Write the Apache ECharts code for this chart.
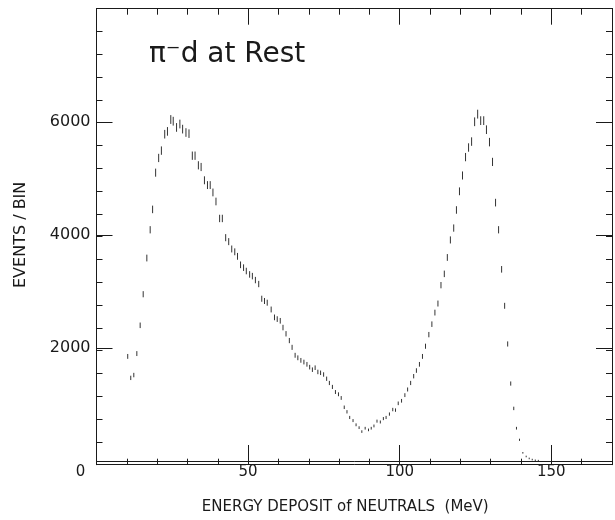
<!DOCTYPE html>
<html>
<head>
<meta charset="utf-8">
<script src="https://cdn.jsdelivr.net/npm/echarts@6/dist/echarts.min.js"></script>
<style>
  html, body { margin: 0; padding: 0; background: #fff; }
  #chart { width: 615px; height: 520px; }
</style>
</head>
<body>
<div id="chart"></div>
<script>
// Energy deposit of neutrals (MeV), bin centres
const energy = [
  10.3, 11.3, 12.3, 13.3, 14.4, 15.4, 16.6, 17.7, 18.5, 19.5,
  20.5, 21.4, 22.5, 23.4, 24.5, 25.3, 26.4, 27.5, 28.4, 29.5,
  30.5, 31.6, 32.5, 33.6, 34.5, 35.6, 36.6, 37.5, 38.4, 39.4,
  40.6, 41.5, 42.6, 43.6, 44.6, 45.6, 46.5, 47.5, 48.5, 49.4,
  50.5, 51.4, 52.4, 53.5, 54.5, 55.4, 56.3, 57.6, 58.7, 59.6,
  60.6, 61.5, 62.5, 63.6, 64.5, 65.5, 66.4, 67.4, 68.4, 69.4,
  70.3, 71.2, 72.1, 73.0, 73.9, 74.9, 75.9, 76.8, 77.8, 78.8,
  79.8, 80.7, 81.7, 82.6, 83.5, 84.6, 85.6, 86.6, 87.5, 88.6,
  89.7, 90.6, 91.5, 92.5, 93.6, 94.6, 95.5, 96.6, 97.7, 98.6,
  99.5, 100.6, 101.7, 102.6, 103.6, 104.6, 105.5, 106.5, 107.5, 108.5,
  109.6, 110.6, 111.6, 112.6, 113.6, 114.7, 115.7, 116.7, 117.8, 118.7,
  119.7, 120.7, 121.7, 122.7, 123.7, 124.7, 125.7, 126.7, 127.7, 128.6,
  129.6, 130.6, 131.6, 132.6, 133.6, 134.6, 135.6, 136.6, 137.6, 138.5,
  139.5, 140.6, 141.7, 142.7, 143.7, 144.7, 145.7
];
// Events per bin
const events = [
  1850, 1470, 1520, 1900, 2400, 2950, 3590, 4090, 4450, 5100,
  5360, 5490, 5780, 5830, 6040, 6010, 5900, 5960, 5870, 5810,
  5790, 5400, 5400, 5230, 5200, 4965, 4880, 4880, 4750, 4590,
  4290, 4290, 3950, 3880, 3750, 3700, 3620, 3470, 3420, 3360,
  3300, 3270, 3200, 3130, 2870, 2830, 2800, 2680, 2540, 2510,
  2480, 2360, 2250, 2130, 2010, 1870, 1825, 1780, 1750, 1710,
  1660, 1615, 1650, 1575, 1560, 1530, 1455, 1380, 1310, 1220,
  1180, 1115, 950, 870, 770, 715, 640, 590, 520, 580,
  550, 580, 620, 705, 690, 750, 770, 830, 910, 900,
  1020, 1065, 1165, 1265, 1380, 1500, 1600, 1710, 1850, 2030,
  2235, 2420, 2625, 2785, 3110, 3310, 3600, 3910, 4120, 4440,
  4770, 5050, 5375, 5545, 5650, 6000, 6135, 6020, 6020, 5860,
  5640, 5290, 4570, 4090, 3390, 2745, 2070, 1370, 930, 580,
  375, 145, 80, 45, 25, 12, 6
];
const xMajorTicks = [0, 50, 100, 150];
const yMajorTicks = [2000, 4000, 6000];
const titleText = 'π⁻d at Rest';
const xName = 'ENERGY DEPOSIT of NEUTRALS  (MeV)';
const yName = 'EVENTS / BIN';

const FONT = 'DejaVu Sans';
const INK = '#1a1a1a';
const gridBox = { left: 96.5, right: 3, top: 8.7, bottom: 55.3 };

const points = energy.map((e, i) => [e, events[i]]);

function axisCommon(extra) {
  return Object.assign({
    type: 'value',
    axisLine: { show: true, onZero: false, lineStyle: { color: INK, width: 1 } },
    splitLine: { show: false },
    axisLabel: { show: false }
  }, extra);
}

const chart = echarts.init(document.getElementById('chart'), null, { renderer: 'canvas' });
chart.setOption({
  backgroundColor: '#fff',
  animation: false,
  title: {
    text: titleText,
    left: 144,
    top: 36,
    textStyle: { fontFamily: FONT, fontSize: 28, fontWeight: 'normal', color: INK }
  },
  grid: [
    Object.assign({}, gridBox),
    Object.assign({}, gridBox)
  ],
  xAxis: [
    axisCommon({
      gridIndex: 0, position: 'bottom', min: 0, max: 170, interval: 50,
      axisTick: { show: true, inside: true, length: 16, lineStyle: { color: INK, width: 1 } },
      name: xName, nameLocation: 'middle', nameGap: 39,
      nameTextStyle: { fontFamily: FONT, fontSize: 15, color: INK, padding: [0, 18, 0, 0] },
      axisLabel: {
        show: true, margin: 4, fontFamily: FONT, fontSize: 15, color: INK,
        formatter: v => xMajorTicks.indexOf(v) < 0 ? '' : (v === 0 ? '{z|0}' : String(v)),
        rich: { z: { fontFamily: FONT, fontSize: 15, color: INK, padding: [0, 32, 0, 0] } }
      }
    }),
    axisCommon({
      gridIndex: 0, position: 'top', min: 0, max: 170, interval: 50,
      axisTick: { show: true, inside: true, length: 16, lineStyle: { color: INK, width: 1 } }
    }),
    axisCommon({
      gridIndex: 1, position: 'bottom', min: 0, max: 170, interval: 10,
      axisTick: { show: true, inside: true, length: 6, lineStyle: { color: INK, width: 1 } }
    }),
    axisCommon({
      gridIndex: 1, position: 'top', min: 0, max: 170, interval: 10,
      axisTick: { show: true, inside: true, length: 6, lineStyle: { color: INK, width: 1 } }
    })
  ],
  yAxis: [
    axisCommon({
      gridIndex: 0, position: 'left', min: 0, max: 8000, interval: 2000,
      axisTick: { show: true, inside: true, length: 16, lineStyle: { color: INK, width: 1 } },
      name: yName, nameLocation: 'middle', nameGap: 68, nameRotate: 90,
      nameTextStyle: { fontFamily: FONT, fontSize: 16, color: INK },
      axisLabel: {
        show: true, margin: 6, fontFamily: FONT, fontSize: 16, color: INK,
        formatter: v => yMajorTicks.indexOf(v) < 0 ? '' : String(v)
      }
    }),
    axisCommon({
      gridIndex: 0, position: 'right', min: 0, max: 8000, interval: 2000,
      axisTick: { show: true, inside: true, length: 16, lineStyle: { color: INK, width: 1 } }
    }),
    axisCommon({
      gridIndex: 1, position: 'left', min: 0, max: 8000, interval: 400,
      axisTick: { show: true, inside: true, length: 6, lineStyle: { color: INK, width: 1 } }
    }),
    axisCommon({
      gridIndex: 1, position: 'right', min: 0, max: 8000, interval: 400,
      axisTick: { show: true, inside: true, length: 6, lineStyle: { color: INK, width: 1 } }
    })
  ],
  series: [{
    type: 'custom',
    xAxisIndex: 0,
    yAxisIndex: 0,
    data: points,
    clip: true,
    renderItem: function (params, api) {
      const x = api.value(0);
      const y = api.value(1);
      const err = Math.sqrt(y);
      const top = api.coord([x, y + err]);
      const bot = api.coord([x, y - err]);
      let y1 = top[1], y2 = bot[1];
      if (y2 - y1 < 1.6) { const m = (y1 + y2) / 2; y1 = m - 0.8; y2 = m + 0.8; }
      return {
        type: 'line',
        shape: { x1: top[0], y1: y1, x2: top[0], y2: y2 },
        style: { stroke: '#333', lineWidth: 1 }
      };
    }
  }]
});
</script>
</body>
</html>
